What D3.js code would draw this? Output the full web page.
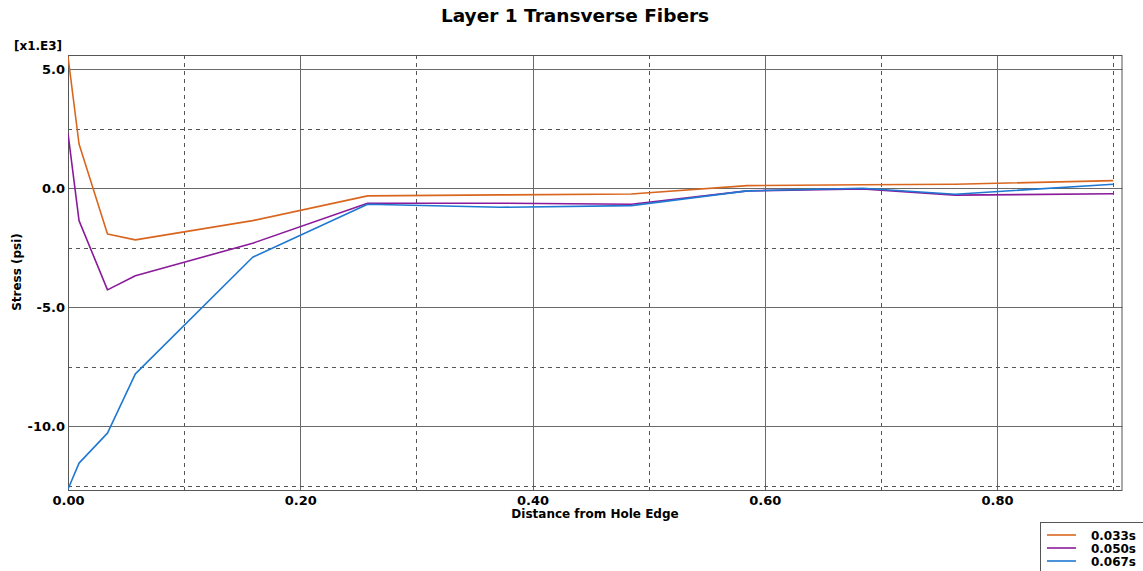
<!DOCTYPE html>
<html>
<head>
<meta charset="utf-8">
<script src="https://cdn.jsdelivr.net/npm/d3@7"></script>
<style>
  html, body { margin: 0; padding: 0; background: #fff; }
  svg { display: block; font-family: "DejaVu Sans", Verdana, sans-serif; }
</style>
</head>
<body>
<svg id="chart" width="1143" height="571"></svg>
<script>
// Distance from hole edge (node positions along the path)
const distance = [0, 0.0095, 0.034, 0.058, 0.159, 0.258, 0.372, 0.485, 0.585, 0.684, 0.764, 0.9];

// Transverse fiber stress (psi) at each time step
const stress033 = [5530, 1860, -1920, -2170, -1360, -320, -280, -240, 110, 150, 170, 320];
const stress050 = [2310, -1360, -4270, -3680, -2310, -630, -630, -670, -110, -30, -290, -230];
const stress067 = [-12650, -11550, -10290, -7800, -2900, -670, -800, -730, -110, 0, -250, 170];

const seriesNames = ["0.033s", "0.050s", "0.067s"];
const seriesColors = ["#d9661f", "#8b1a9b", "#1f78d2"];

const xMajorTicks = [0, 0.2, 0.4, 0.6, 0.8];
const xMinorTicks = [0.1, 0.3, 0.5, 0.7, 0.9];
const yMajorTicks = [5000, 0, -5000, -10000];
const yMinorTicks = [2500, -2500, -7500, -12500];

const series = [stress033, stress050, stress067].map((vals, i) => ({
  name: seriesNames[i],
  color: seriesColors[i],
  points: vals.map((v, j) => ({ x: distance[j], y: v }))
}));

const svg = d3.select("#chart");
const plot = { left: 68, right: 1122.5, top: 55, bottom: 490 };

const x = d3.scaleLinear().domain([0, 0.908]).range([plot.left, plot.right]);
const y = d3.scaleLinear().domain([-12680, 5600]).range([plot.bottom, plot.top]);

// Plain hyphen for negative tick values
const fmtX = d => d.toFixed(2);
const fmtY = d => (d / 1000).toFixed(1);

// Title
svg.append("text")
  .attr("x", 575).attr("y", 22)
  .attr("text-anchor", "middle")
  .attr("font-size", 18.5).attr("font-weight", "bold").attr("fill", "#000")
  .text("Layer 1 Transverse Fibers");

// Grid: solid lines at major ticks, dashed at minor ticks
const grid = svg.append("g");
grid.selectAll("line.xmaj").data(xMajorTicks).join("line")
  .attr("x1", d => Math.round(x(d)) + 0.5).attr("x2", d => Math.round(x(d)) + 0.5)
  .attr("y1", plot.top).attr("y2", plot.bottom)
  .attr("stroke", "#6a6a6a").attr("stroke-width", 1);
grid.selectAll("line.xmin").data(xMinorTicks).join("line")
  .attr("x1", d => Math.round(x(d)) + 0.5).attr("x2", d => Math.round(x(d)) + 0.5)
  .attr("y1", plot.top).attr("y2", plot.bottom)
  .attr("stroke", "#555").attr("stroke-width", 1).attr("stroke-dasharray", "4,4");
grid.selectAll("line.ymaj").data(yMajorTicks).join("line")
  .attr("y1", d => Math.round(y(d)) + 0.5).attr("y2", d => Math.round(y(d)) + 0.5)
  .attr("x1", plot.left).attr("x2", plot.right)
  .attr("stroke", "#6a6a6a").attr("stroke-width", 1);
grid.selectAll("line.ymin").data(yMinorTicks).join("line")
  .attr("y1", d => Math.round(y(d)) + 0.5).attr("y2", d => Math.round(y(d)) + 0.5)
  .attr("x1", plot.left).attr("x2", plot.right)
  .attr("stroke", "#555").attr("stroke-width", 1).attr("stroke-dasharray", "4,4");

// Plot frame
svg.append("rect")
  .attr("x", plot.left + 0.5).attr("y", plot.top + 0.5)
  .attr("width", plot.right - plot.left - 1).attr("height", plot.bottom - plot.top)
  .attr("fill", "none").attr("stroke", "#555").attr("stroke-width", 1);

// Series lines
const line = d3.line().x(d => x(d.x)).y(d => y(d.y));
svg.append("clipPath").attr("id", "plotClip")
  .append("rect").attr("x", plot.left).attr("y", plot.top - 2)
  .attr("width", plot.right - plot.left).attr("height", plot.bottom - plot.top + 4);
svg.append("g").attr("clip-path", "url(#plotClip)")
  .selectAll("path").data(series).join("path")
  .attr("d", d => line(d.points))
  .attr("fill", "none")
  .attr("stroke", d => d.color)
  .attr("stroke-width", 1.6)
  .attr("stroke-linejoin", "round");

// Tick labels
const xAxis = d3.axisBottom(x).tickValues(xMajorTicks).tickFormat(fmtX).tickSize(0).tickPadding(6);
svg.append("g").attr("transform", `translate(0,${plot.bottom})`).call(xAxis)
  .call(g => g.select(".domain").remove())
  .call(g => g.selectAll("text").attr("font-size", 13).attr("font-weight", "bold")
    .attr("fill", "#000").attr("font-family", "DejaVu Sans, Verdana, sans-serif"));

const yAxis = d3.axisLeft(y).tickValues(yMajorTicks).tickFormat(fmtY).tickSize(0).tickPadding(3);
svg.append("g").attr("transform", `translate(${plot.left},0)`).call(yAxis)
  .call(g => g.select(".domain").remove())
  .call(g => g.selectAll("text").attr("font-size", 13).attr("font-weight", "bold")
    .attr("fill", "#000").attr("font-family", "DejaVu Sans, Verdana, sans-serif"));

// Exponent marker
svg.append("text")
  .attr("x", 38).attr("y", 50).attr("text-anchor", "middle")
  .attr("font-size", 12).attr("font-weight", "bold").text("[x1.E3]");

// Axis titles
svg.append("text")
  .attr("x", 595).attr("y", 518).attr("text-anchor", "middle")
  .attr("font-size", 12).attr("font-weight", "bold").text("Distance from Hole Edge");
svg.append("text")
  .attr("transform", "translate(21,272) rotate(-90)").attr("text-anchor", "middle")
  .attr("font-size", 12).attr("font-weight", "bold").text("Stress (psi)");

// Legend
const legend = svg.append("g").attr("transform", "translate(1040,522)");
legend.append("rect").attr("x", 0.5).attr("y", 0.5).attr("width", 110).attr("height", 52)
  .attr("fill", "#fff").attr("stroke", "#555");
const items = legend.selectAll("g.item").data(series).join("g")
  .attr("transform", (d, i) => `translate(0,${13 + i * 13})`);
items.append("line").attr("x1", 7).attr("x2", 36).attr("y1", 0).attr("y2", 0)
  .attr("stroke", d => d.color).attr("stroke-width", 1.6);
items.append("text").attr("x", 96).attr("y", 4.5).attr("text-anchor", "end")
  .attr("font-size", 12).attr("font-weight", "bold").text(d => d.name);
</script>
</body>
</html>
